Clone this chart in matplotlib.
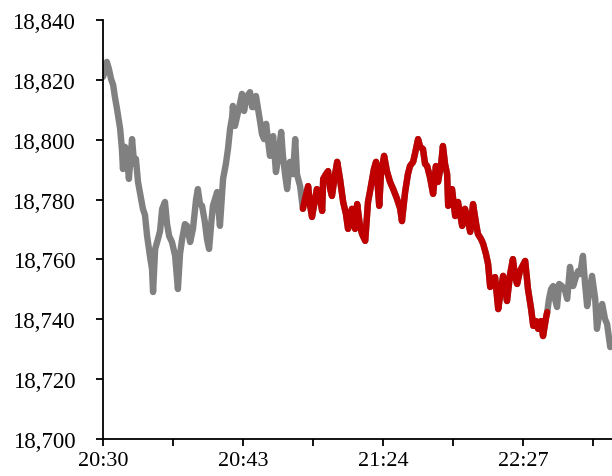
import matplotlib
matplotlib.use("Agg")
import matplotlib.pyplot as plt
from matplotlib.ticker import FuncFormatter

# sample number (ticks every 200 samples) and index level
sample = [0, 6, 11, 17, 23, 29, 34, 40, 49, 54, 57, 63, 69, 74, 83, 89, 94, 100, 109, 114,
          120, 126, 134, 140, 143, 149, 157, 163, 169, 177, 183, 189, 197, 206, 214, 220, 226, 234, 240, 249,
          257, 266, 271, 277, 283, 291, 297, 303, 309, 314, 320, 326, 331, 334, 340, 343, 351, 357, 363, 369,
          371, 377, 386, 391, 397, 403, 409, 414, 420, 426, 431, 437, 443, 449, 454, 460, 466, 471, 477, 486,
          494, 500, 509, 514, 520, 526, 534, 543, 549, 554, 563, 571,
          577, 586, 591, 597, 606, 611, 620, 626, 629, 637, 643, 649, 654, 663, 669, 677, 686, 694, 700, 706,
          711, 720, 726, 734, 740, 749, 757, 763, 769, 774, 780, 789, 794, 803, 811, 820, 829, 840, 849, 854,
          863, 871, 877, 886, 891, 900, 906, 914, 920, 926, 934, 943, 951, 957, 966, 971, 977, 983, 986, 991,
          997, 1006, 1014, 1020, 1026, 1034, 1040, 1049, 1057, 1066, 1071, 1080, 1086, 1094, 1100, 1106, 1114, 1120, 1129, 1137,
          1143, 1149, 1154, 1163, 1171, 1177, 1183, 1191, 1197, 1206, 1214, 1223, 1229, 1237, 1243, 1251, 1257, 1266, 1269,
          1274, 1280, 1286, 1291, 1297, 1303, 1311, 1320, 1326, 1334, 1343, 1351, 1357, 1363, 1371, 1377, 1383, 1391, 1397, 1406,
          1411, 1420, 1426, 1434, 1440, 1449]
level = [18821.0, 18823.0, 18826.0, 18823.6, 18820.3, 18818.3, 18814.3, 18810.3, 18803.6, 18796.9,
         18790.2, 18797.6, 18793.6, 18786.9, 18800.2, 18791.9, 18793.6, 18785.9, 18780.2, 18776.9,
         18774.8, 18767.8, 18761.2, 18756.8, 18749.1, 18763.5, 18766.8, 18769.5, 18776.9, 18779.2,
         18771.8, 18767.8, 18765.8, 18761.2, 18750.1, 18761.8, 18766.8, 18771.8, 18771.2, 18765.8,
         18770.2, 18780.2, 18783.5, 18778.5, 18777.9, 18772.5, 18766.8, 18763.5, 18771.8, 18777.9,
         18780.2, 18782.5, 18775.2, 18771.2, 18781.9, 18786.9, 18791.9, 18796.9, 18803.6, 18807.6,
         18811.3, 18804.6, 18809.3, 18811.9, 18815.3, 18809.6, 18813.6, 18814.9, 18815.9, 18810.9,
         18810.9, 18814.6, 18810.3, 18805.9, 18801.9, 18800.2, 18805.3, 18800.2, 18794.6, 18801.2,
         18789.2, 18793.6, 18802.6, 18794.6, 18788.5, 18783.5, 18792.6, 18788.5, 18800.2, 18788.5,
         18784.5, 18776.9,
         18780.2, 18784.5, 18778.5, 18774.2, 18780.2, 18783.5, 18780.2, 18776.2, 18786.9, 18788.5,
         18789.5, 18783.5, 18781.2, 18788.5, 18792.6, 18786.9, 18779.2, 18775.2, 18770.2, 18774.2,
         18776.9, 18770.2, 18778.5, 18771.2, 18768.5, 18766.2, 18779.2, 18782.9, 18786.9, 18790.2,
         18792.6, 18777.9, 18788.5, 18794.6, 18789.5, 18785.9, 18783.5, 18780.2, 18776.9, 18772.8,
         18782.5, 18788.5, 18791.2, 18792.6, 18795.2, 18800.2, 18797.6, 18796.9, 18791.9, 18791.2,
         18787.5, 18781.9, 18791.2, 18785.9, 18791.9, 18797.9, 18791.9, 18788.5, 18777.9, 18781.9,
         18783.5, 18774.5, 18779.2, 18775.2, 18771.2, 18776.9, 18774.2, 18769.2, 18778.5, 18771.8,
         18768.5, 18766.8, 18765.2, 18761.8, 18758.5, 18750.8, 18751.8, 18754.1, 18743.4, 18750.1,
         18754.5, 18750.1, 18746.1, 18755.1, 18760.1, 18754.1, 18751.8, 18756.1, 18757.5, 18759.5,
         18750.1, 18743.4, 18737.8, 18739.4, 18736.8, 18739.4, 18734.4, 18740.8, 18742.4,
         18746.8, 18750.1, 18751.1, 18746.8, 18744.1, 18751.8, 18751.1, 18749.5, 18746.8, 18757.5,
         18751.1, 18754.1, 18756.1, 18755.1, 18761.2, 18751.8, 18744.4, 18750.1, 18754.5, 18746.8,
         18736.8, 18743.4, 18745.1, 18740.1, 18738.4, 18730.7]

# highlighted stretch (first and last sample of the red part)
red_start, red_end = 571, 1269

tick_step = 200
tick_labels = ["20:30", "", "20:43", "", "21:24", "", "22:27", ""]

plt.rcParams['font.family'] = ['Liberation Serif', 'DejaVu Serif']

fig = plt.figure(figsize=(6.12, 4.77), dpi=100)
ax = fig.add_axes([0.1683, 0.0776, 0.8317, 0.8784])

ax.plot(sample, level, color='#808080', lw=4.6, solid_joinstyle='round', solid_capstyle='round')

i0 = sample.index(red_start)
i1 = sample.index(red_end)
ax.plot(sample[i0:i1 + 1], level[i0:i1 + 1], color='#C00000', lw=4.6,
        solid_joinstyle='round', solid_capstyle='round')

ax.set_ylim(18700, 18840)
ax.set_yticks(range(18700, 18841, 20))
ax.yaxis.set_major_formatter(FuncFormatter(lambda v, p: f"{int(v):,}"))

ax.set_xlim(0, 1454)
ax.set_xticks([i * tick_step for i in range(len(tick_labels))])
ax.set_xticklabels(tick_labels)

for s in ['top', 'right']:
    ax.spines[s].set_visible(False)
for s in ['left', 'bottom']:
    ax.spines[s].set_linewidth(1.3)
    ax.spines[s].set_color('black')

ax.tick_params(axis='y', direction='out', length=5, width=1.3, pad=15, labelsize=16.5)
ax.tick_params(axis='x', direction='out', length=5, width=1.3, pad=4, labelsize=16)

fig.savefig("out.png", dpi=100)
